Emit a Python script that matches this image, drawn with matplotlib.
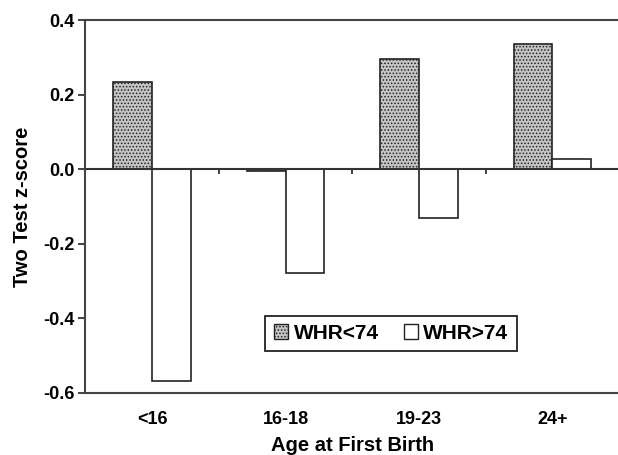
import numpy as np
import matplotlib
matplotlib.use('Agg')
import matplotlib.pyplot as plt
from matplotlib.patches import Patch

# data
groups = ['<16', '16-18', '19-23', '24+']
whr_low = [0.234, -0.005, 0.296, 0.336]    # WHR<74 (dotted bars)
whr_high = [-0.570, -0.280, -0.132, 0.027]  # WHR>74 (open bars)

plt.rcParams['font.family'] = ['Liberation Sans', 'DejaVu Sans']
plt.rcParams['font.weight'] = 'bold'
plt.rcParams['hatch.linewidth'] = 0.7

fig = plt.figure(figsize=(6.18, 4.55), dpi=100)
ax = fig.add_axes([0.138, 0.137, 0.864, 0.819])

x = np.arange(len(groups))
w = 0.29

ax.bar(x - w / 2, whr_low, w, facecolor='#c4c4c4', edgecolor='#222222',
       hatch='.....', linewidth=1.2, zorder=2)
ax.bar(x + w / 2, whr_high, w, facecolor='white', edgecolor='#222222',
       linewidth=1.2, zorder=2)

# zero line with small category separators
ax.axhline(0, color='#333333', linewidth=1.5, zorder=3)
ax.vlines(x[:-1] + 0.5, -0.014, 0, color='#333333', linewidth=1.3, zorder=3)

ax.set_xlim(-0.5, len(groups) - 0.5)
ax.set_ylim(-0.6, 0.4)
ax.set_yticks([-0.6, -0.4, -0.2, 0.0, 0.2, 0.4])
ax.set_yticklabels(['-0.6', '-0.4', '-0.2', '0.0', '0.2', '0.4'])
ax.set_xticks(x)
ax.set_xticklabels(groups)
ax.tick_params(axis='x', length=0, pad=13, labelsize=13)
ax.tick_params(axis='y', length=5, width=1.3, color='#333333', labelsize=13, pad=3)

for s in ax.spines.values():
    s.set_color('#444444')
    s.set_linewidth(1.5)
ax.spines['right'].set_visible(False)

ax.set_xlabel('Age at First Birth', fontsize=14.5, fontweight='bold', labelpad=6)
ax.set_ylabel('Two Test z-score', fontsize=14.5, fontweight='bold', labelpad=8)

handles = [Patch(facecolor='#c4c4c4', edgecolor='#222222', hatch='.....', linewidth=1.0),
           Patch(facecolor='white', edgecolor='#222222', linewidth=1.0)]
leg = ax.legend(handles, ['WHR<74', 'WHR>74'], ncol=2, loc='lower left',
                bbox_to_anchor=(0.318, 0.083), fancybox=False, framealpha=1,
                edgecolor='#222222', fontsize=15, handlelength=0.7,
                handleheight=0.7, handletextpad=0.25, columnspacing=1.2,
                borderpad=0.4)
leg.get_frame().set_linewidth(1.3)

fig.savefig('out.png', dpi=100)
